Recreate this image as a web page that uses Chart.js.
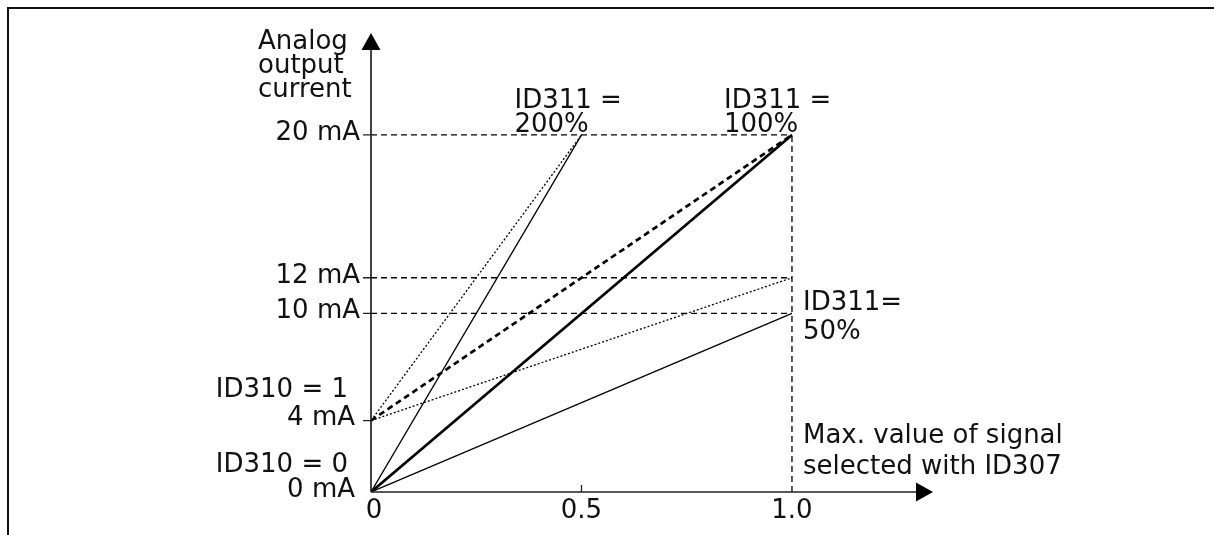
<!DOCTYPE html>
<html>
<head>
<meta charset="utf-8">
<script src="https://cdn.jsdelivr.net/npm/chart.js@4"></script>
<style>
    body { margin: 0; background: #fff; }
    #wrap { position: relative; width: 1214px; height: 535px; }
</style>
</head>
<body>
<div id="wrap"><canvas id="graphOutput"></canvas></div>
<script>
// signal axis (x) and current axis (y) ticks
const signalTicks = [0, 0.5, 1.0];
const signalTickLabels = ['0', '0.5', '1.0'];
const currentTicks = [0, 4, 10, 12, 20];
const currentTickLabels = ['0 mA', '4 mA', '10 mA', '12 mA', '20 mA'];

// x values of the lines
const signalFull = [0, 1.0];
const signalHalf = [0, 0.5];

// ID311 = 100%
const out100Zero = [0, 20];
const out100Live = [4, 20];
// ID311 = 200%
const out200Zero = [0, 20];
const out200Live = [4, 20];
// ID311 = 50%
const out50Zero = [0, 10];
const out50Live = [4, 12];

// dashed helper lines
const refLevels = [20, 12, 10];
const refSignal = 1.0;

const FONT = '26px "DejaVu Sans", Verdana, sans-serif';

/** Zips x and y arrays into point objects */
function toPoints(xs, ys) {
    return xs.map((x, i) => ({x: x, y: ys[i]}));
}

function lineSet(label, xs, ys, width, dash) {
    return {
        label: label,
        data: toPoints(xs, ys),
        borderColor: '#000',
        borderWidth: width,
        borderDash: dash,
        pointRadius: 0,
        fill: false
    };
}

const datasets = [];
refLevels.forEach(level => {
    datasets.push(lineSet(level + ' mA', [0, refSignal], [level, level], 1.3, [6, 4]));
});
datasets.push(lineSet('max signal', [refSignal, refSignal], [0, 20], 1.3, [6, 4]));
datasets.push(lineSet('ID311 = 50%, ID310 = 0', signalFull, out50Zero, 1.3, []));
datasets.push(lineSet('ID311 = 50%, ID310 = 1', signalFull, out50Live, 1.3, [2, 2]));
datasets.push(lineSet('ID311 = 200%, ID310 = 0', signalHalf, out200Zero, 1.3, []));
datasets.push(lineSet('ID311 = 200%, ID310 = 1', signalHalf, out200Live, 1.3, [2, 2]));
datasets.push(lineSet('ID311 = 100%, ID310 = 0', signalFull, out100Zero, 2.7, []));
datasets.push(lineSet('ID311 = 100%, ID310 = 1', signalFull, out100Live, 2.7, [6, 4]));

function text(ctx, str, x, y, align, base) {
    ctx.textAlign = align;
    ctx.textBaseline = base || 'alphabetic';
    ctx.fillText(str, x, y);
}

// draws frame, arrow axes, ticks and all the text labels
const diagramPlugin = {
    id: 'diagram',
    afterDraw(chart) {
        const ctx = chart.ctx;
        const xs = chart.scales.x;
        const ys = chart.scales.y;
        const area = chart.chartArea;
        const ox = xs.getPixelForValue(0);
        const oy = ys.getPixelForValue(0);

        ctx.save();
        // frame (top and left only)
        ctx.strokeStyle = '#111';
        ctx.lineWidth = 2;
        ctx.beginPath();
        ctx.moveTo(8, 535);
        ctx.lineTo(8, 8);
        ctx.lineTo(1214, 8);
        ctx.stroke();

        // axes
        ctx.strokeStyle = '#222';
        ctx.lineWidth = 1.7;
        ctx.beginPath();
        ctx.moveTo(ox, oy);
        ctx.lineTo(ox, area.top + 14);
        ctx.moveTo(ox, oy);
        ctx.lineTo(area.right - 14, oy);
        ctx.stroke();
        ctx.fillStyle = '#000';
        ctx.beginPath();
        ctx.moveTo(ox, area.top);
        ctx.lineTo(ox - 9.5, area.top + 17);
        ctx.lineTo(ox + 9.5, area.top + 17);
        ctx.closePath();
        ctx.fill();
        ctx.beginPath();
        ctx.moveTo(area.right, oy);
        ctx.lineTo(area.right - 17, oy - 9.5);
        ctx.lineTo(area.right - 17, oy + 9.5);
        ctx.closePath();
        ctx.fill();

        // tick marks
        ctx.lineWidth = 1.3;
        ctx.beginPath();
        currentTicks.forEach(v => {
            if (v === 0) return;
            const py = ys.getPixelForValue(v);
            ctx.moveTo(ox - 8, py);
            ctx.lineTo(ox, py);
        });
        const hx = xs.getPixelForValue(0.5);
        ctx.moveTo(hx, oy);
        ctx.lineTo(hx, oy - 7);
        ctx.stroke();

        ctx.font = FONT;
        ctx.fillStyle = '#111';

        // y tick labels
        currentTicks.forEach((v, i) => {
            const py = ys.getPixelForValue(v);
            const right = v >= 10 ? ox - 11 : ox - 16;
            text(ctx, currentTickLabels[i], right, py - 2, 'right', 'middle');
        });
        text(ctx, 'ID310 = 1', ox - 23, ys.getPixelForValue(4) - 24, 'right');
        text(ctx, 'ID310 = 0', ox - 23, oy - 20, 'right');

        // x tick labels
        signalTicks.forEach((v, i) => {
            const px = xs.getPixelForValue(v);
            text(ctx, signalTickLabels[i], v === 0 ? px + 3 : px, oy + 26, 'center');
        });

        // axis titles
        const titleX = ox - 113;
        text(ctx, 'Analog', titleX, area.top + 16, 'left');
        text(ctx, 'output', titleX, area.top + 40, 'left');
        text(ctx, 'current', titleX, area.top + 64, 'left');

        const p20 = ys.getPixelForValue(20);
        const pHalf = xs.getPixelForValue(0.5);
        const pFull = xs.getPixelForValue(1.0);
        text(ctx, 'ID311 =', pHalf - 67, p20 - 27, 'left');
        text(ctx, '200%', pHalf - 67, p20 - 3, 'left');
        text(ctx, 'ID311 =', pFull - 68, p20 - 27, 'left');
        text(ctx, '100%', pFull - 68, p20 - 3, 'left');

        const p10 = ys.getPixelForValue(10);
        text(ctx, 'ID311=', pFull + 11, p10 - 3, 'left');
        text(ctx, '50%', pFull + 11, p10 + 26, 'left');

        text(ctx, 'Max. value of signal', pFull + 11, oy - 49, 'left');
        text(ctx, 'selected with ID307', pFull + 11, oy - 18, 'left');
        ctx.restore();
    }
};

let chart;
function initChart() {
    chart = new Chart(document.getElementById('graphOutput'), {
        type: 'line',
        data: { datasets: datasets },
        options: {
            responsive: true,
            maintainAspectRatio: false,
            animation: false,
            layout: { padding: { left: 371, right: 281, top: 33, bottom: 43 } },
            scales: {
                x: { type: 'linear', min: 0, max: 1.335, display: false },
                y: { type: 'linear', min: 0, max: 25.71, display: false }
            },
            plugins: {
                legend: { display: false },
                tooltip: { enabled: false }
            }
        },
        plugins: [diagramPlugin]
    });
}

initChart();
</script>
</body>
</html>
